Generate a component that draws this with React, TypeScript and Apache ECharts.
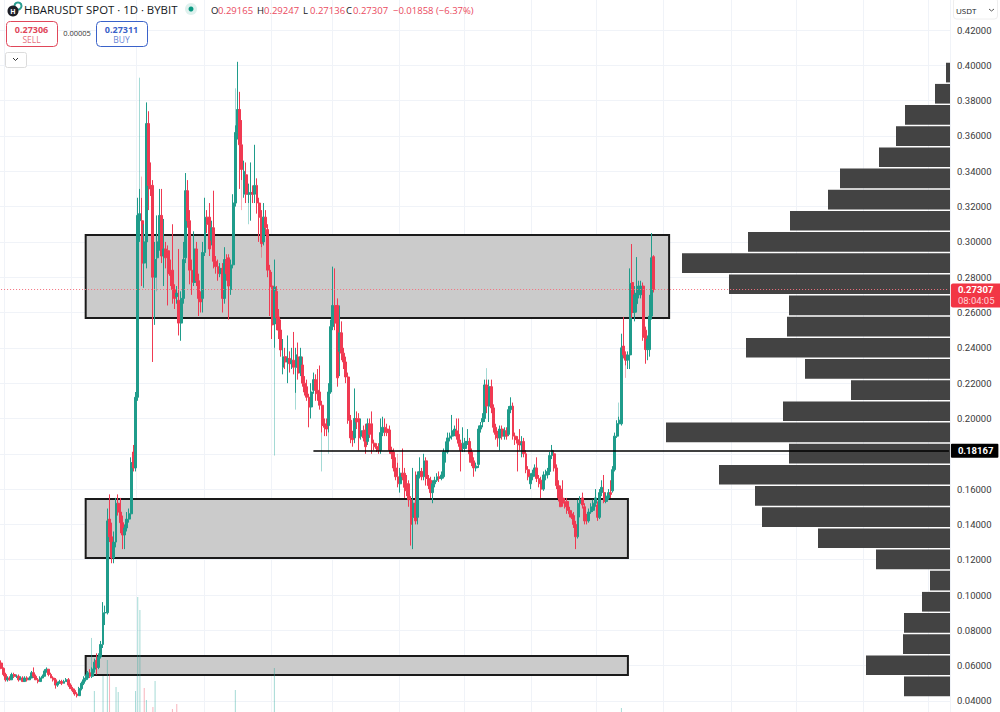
import React, { useEffect, useRef } from "react";
import * as echarts from "echarts";

const FONT = "'Open Sans', 'Noto Sans', sans-serif";
const AXIS_FONT = "Roboto, 'Open Sans', sans-serif";
const UP = "#1f9c8b";
const DOWN = "#f03a52";
const PALE_UP = "rgba(38,166,154,0.42)";
const PALE_DOWN = "rgba(240,58,82,0.38)";

const SLOT_COUNT = 438;
const categories = Array.from({ length: SLOT_COUNT }, (_, i) =>
  new Date(Date.UTC(2024, 8, 30 + i)).toISOString().slice(0, 10)
);
const monthGridSlots = [2, 33, 63, 94, 125, 153, 184, 214, 245, 275, 306, 337, 367, 398, 428];

const priceTicks = { min: 0.02, max: 0.44, step: 0.02 };
const coveredTickLabel = "0.18000";

// [open, close, low, high]
const candles: number[][] = [
  [.0615,.0585,.058,.063],[.0585,.055,.054,.059],[.055,.052,.051,.056],[.052,.053,.051,.054],[.053,.052,.0515,.054],
  [.052,.055,.052,.056],[.055,.054,.053,.056],[.054,.054,.053,.055],[.054,.052,.051,.055],[.052,.053,.052,.054],
  [.053,.051,.051,.054],[.051,.053,.051,.054],[.053,.052,.051,.054],[.052,.053,.052,.054],[.053,.056,.053,.057],
  [.056,.054,.053,.059],[.054,.052,.052,.055],[.052,.051,.05,.053],[.051,.053,.051,.054],[.053,.054,.053,.055],
  [.054,.057,.054,.058],[.057,.058,.056,.059],[.058,.055,.054,.058],[.055,.053,.053,.056],[.053,.052,.051,.054],
  [.052,.049,.047,.053],[.049,.05,.048,.051],[.05,.051,.05,.052],[.051,.05,.049,.052],[.05,.051,.05,.052],
  [.051,.052,.051,.053],[.052,.049,.048,.053],[.049,.047,.047,.05],[.047,.046,.045,.048],[.046,.044,.043,.047],
  [.044,.043,.042,.045],[.043,.047,.043,.048],[.047,.05,.046,.051],[.05,.052,.049,.054],[.052,.053,.051,.055],
  [.053,.056,.052,.057],[.056,.054,.053,.058],[.054,.058,.053,.059],[.058,.062,.056,.064],[.063,.059,.055,.067],
  [.059,.065,.058,.067],[.065,.072,.064,.074],[.072,.09,.07,.096],[.09,.09,.083,.094],[.09,.142,.089,.149],
  [.143,.133,.13,.157],[.133,.121,.118,.141],[.121,.13,.118,.136],[.13,.152,.127,.155],[.152,.147,.145,.157],
  [.147,.141,.135,.155],[.141,.134,.126,.145],[.134,.138,.126,.14],[.138,.143,.136,.147],[.143,.146,.141,.149],
  [.146,.175,.145,.178],[.181,.172,.17,.185],[.172,.212,.17,.215],[.212,.315,.21,.325],[.312,.316,.3,.33],
  [.312,.288,.275,.325],[.288,.3,.274,.31],[.3,.367,.285,.379],[.367,.332,.318,.374],[.332,.33,.326,.345],
  [.332,.28,.232,.335],[.28,.29,.253,.3],[.291,.3,.285,.315],[.3,.315,.295,.33],[.315,.292,.288,.33],
  [.292,.296,.275,.313],[.296,.291,.285,.3],[.295,.282,.264,.298],[.283,.281,.275,.29],[.284,.273,.265,.31],
  [.273,.268,.262,.276],[.269,.271,.265,.275],[.267,.254,.247,.296],[.254,.268,.244,.272],[.268,.29,.265,.3],
  [.291,.329,.288,.339],[.329,.312,.308,.335],[.312,.284,.276,.318],[.284,.277,.27,.29],[.277,.296,.275,.306],
  [.296,.278,.275,.3],[.278,.268,.258,.282],[.268,.266,.26,.272],[.268,.294,.26,.3],[.294,.314,.292,.325],
  [.314,.31,.305,.318],[.314,.296,.292,.322],[.301,.308,.298,.312],[.308,.289,.285,.329],[.289,.286,.282,.292],
  [.286,.282,.278,.29],[.282,.285,.28,.288],[.285,.268,.26,.288],[.268,.29,.265,.297],[.29,.282,.278,.293],
  [.291,.275,.256,.293],[.273,.287,.27,.29],[.287,.322,.285,.327],[.322,.362,.32,.366],[.362,.375,.358,.402],
  [.375,.355,.33,.385],[.355,.341,.335,.369],[.327,.34,.325,.346],[.338,.327,.322,.345],[.327,.327,.322,.333],
  [.327,.328,.312,.345],[.328,.327,.322,.332],[.327,.332,.322,.355],[.332,.322,.316,.336],[.322,.314,.3,.325],
  [.314,.299,.297,.318],[.3,.314,.298,.322],[.314,.308,.304,.318],[.307,.284,.28,.31],[.284,.2745,.258,.287],
  [.275,.253,.245,.283],[.2535,.2745,.24,.29],[.272,.257,.25,.275],[.2575,.25,.245,.262],[.2501,.2388,.235,.256],
  [.229,.235,.225,.245],[.235,.232,.228,.24],[.232,.234,.22,.247],[.234,.231,.226,.238],[.231,.233,.228,.24],
  [.233,.229,.225,.249],[.229,.236,.2145,.24],[.2348,.2257,.222,.243],[.226,.235,.224,.24],[.2303,.22,.218,.235],
  [.22,.215,.213,.224],[.218,.212,.21,.222],[.212,.2065,.195,.214],[.2065,.215,.2,.22],[.216,.222,.214,.226],
  [.222,.216,.21,.225],[.216,.214,.21,.228],[.215,.2075,.205,.23],[.2075,.196,.192,.21],[.196,.195,.19,.2],
  [.197,.194,.19,.2],[.196,.215,.192,.22],[.215,.252,.214,.256],[.252,.264,.25,.286],[.264,.254,.25,.285],
  [.264,.223,.218,.268],[.238,.2485,.224,.264],[.2485,.237,.233,.255],[.237,.232,.228,.24],[.232,.2235,.22,.235],
  [.2235,.199,.197,.226],[.199,.189,.186,.202],[.189,.188,.184,.193],[.189,.2,.186,.217],[.2,.198,.194,.204],
  [.2,.189,.182,.203],[.19,.193,.188,.2],[.193,.189,.187,.196],[.1935,.184,.18,.197],[.187,.197,.185,.2],
  [.197,.191,.189,.2],[.197,.186,.18,.204],[.186,.184,.182,.188],[.184,.183,.181,.186],[.184,.182,.18,.186],
  [.182,.192,.18,.2],[.192,.195,.19,.201],[.195,.192,.19,.2],[.194,.192,.19,.197],[.1935,.182,.18,.196],
  [.182,.18,.177,.184],[.181,.172,.17,.183],[.172,.167,.165,.178],[.167,.163,.161,.175],[.163,.169,.158,.172],
  [.169,.167,.165,.183],[.169,.161,.155,.172],[.163,.159,.156,.168],[.163,.154,.15,.165],[.154,.14,.128,.156],
  [.144,.152,.126,.172],[.152,.142,.14,.17],[.144,.168,.14,.17],[.168,.17,.166,.178],[.17,.167,.165,.172],
  [.167,.176,.165,.18],[.176,.166,.162,.178],[.166,.162,.16,.168],[.165,.158,.155,.167],[.158,.163,.152,.165],
  [.163,.165,.161,.167],[.165,.167,.164,.169],[.167,.166,.164,.17],[.166,.168,.165,.17],[.167,.181,.166,.183],
  [.181,.181,.175,.187],[.181,.189,.18,.192],[.189,.19,.187,.192],[.19,.193,.188,.202],[.192,.194,.19,.196],
  [.193,.19,.188,.2],[.191,.186,.184,.2],[.186,.182,.17,.188],[.183,.186,.181,.195],[.183,.187,.181,.189],
  [.187,.187,.185,.194],[.187,.18,.175,.189],[.181,.175,.173,.183],[.176,.172,.167,.178],[.172,.173,.17,.175],
  [.174,.194,.172,.196],[.194,.196,.192,.198],[.198,.2,.195,.203],[.2,.219,.198,.222],[.219,.207,.203,.222],
  [.207,.218,.198,.222],[.218,.206,.203,.222],[.206,.195,.192,.208],[.195,.191,.188,.197],[.191,.189,.184,.193],
  [.189,.194,.182,.196],[.194,.19,.188,.196],[.19,.193,.188,.195],[.193,.19,.188,.195],[.191,.205,.19,.207],
  [.205,.207,.203,.212],[.207,.19,.188,.209],[.19,.188,.185,.192],[.188,.186,.17,.19],[.187,.185,.182,.194],
  [.185,.186,.178,.19],[.187,.18,.178,.189],[.18,.171,.169,.182],[.171,.167,.165,.173],[.163,.167,.16,.169],
  [.167,.169,.165,.171],[.169,.172,.167,.174],[.172,.166,.164,.178],[.166,.163,.161,.168],[.165,.16,.155,.167],
  [.16,.168,.159,.17],[.168,.168,.165,.171],[.168,.17,.166,.172],[.17,.179,.168,.181],[.179,.182,.177,.185],
  [.18,.172,.17,.182],[.172,.162,.16,.174],[.162,.155,.153,.165],[.16,.15,.15,.162],[.155,.152,.15,.165],
  [.153,.15,.149,.155],[.153,.148,.146,.155],[.148,.146,.144,.15],[.146,.144,.143,.148],[.145,.14,.138,.147],
  [.14,.133,.126,.142],[.133,.152,.132,.154],[.152,.154,.144,.156],[.155,.151,.149,.158],[.15,.142,.14,.152],
  [.144,.142,.14,.146],[.142,.147,.141,.149],[.147,.15,.146,.152],[.148,.152,.147,.154],[.152,.155,.15,.16],
  [.151,.144,.142,.153],[.144,.158,.143,.16],[.158,.161,.156,.165],[.158,.153,.152,.168],[.153,.156,.152,.158],
  [.155,.158,.154,.16],[.158,.157,.155,.165],[.159,.171,.158,.173],[.171,.19,.17,.192],[.19,.197,.189,.199],
  [.197,.199,.195,.201],[.197,.24,.196,.248],[.241,.236,.234,.2575],[.236,.233,.23,.238],[.233,.236,.228,.238],
  [.236,.2765,.228,.285],[.277,.26,.257,.2988],[.26,.27,.255,.275],[.265,.271,.26,.2914],[.271,.275,.268,.278],
  [.27,.275,.268,.278],[.275,.246,.244,.277],[.25,.239,.231,.252],[.239,.245,.233,.247],[.239,.258,.235,.27],
  [.258,.291,.256,.305],[.29165,.27307,.27136,.29247],
];

// [slot, low, high, isUp] — wicks drawn in the chart's paler tone
const paleWicks: [number, number, number, boolean][] = [
  [42, .058, .0757, true], [64, .316, .393, true], [65, .325, .337, false], [72, .272, .285, true],
  [108, .362, .387, true], [111, .318, .335, false], [114, .31, .322, true], [120, .291, .297, false],
  [126, .179, .24, true], [148, .17, .192, true], [151, .18, .192, true], [224, .219, .2285, true],
  [285, .199, .209, true], [288, .223, .23, false], [183, .175, .18, false], [136, .205, .2145, true],
];

// [slot, volume (hundred millions), isUp]
const volumes: [number, number, boolean][] = [
  [43, 2.1, true], [47, 3.6, true], [49, 5.2, true], [50, 3.8, false], [53, 2.5, true], [54, 2.0, true],
  [62, 2.1, true], [63, 11.5, true], [64, 10.2, true], [66, 2.4, false], [67, 1.2, true], [70, 0.5, false],
  [71, 3.1, true], [79, 0.3, false], [81, 0.8, false], [108, 2.2, true], [126, 4.4, true], [286, 0.4, true],
];

// width of each volume-profile row, top row first (highest price first)
const profileRows = ["0.4000", "0.3880", "0.3760", "0.3640", "0.3520", "0.3400", "0.3280", "0.3160", "0.3040", "0.2920",
  "0.2800", "0.2680", "0.2560", "0.2440", "0.2320", "0.2200", "0.2080", "0.1960", "0.1840", "0.1720",
  "0.1600", "0.1480", "0.1360", "0.1240", "0.1120", "0.1000", "0.0880", "0.0760", "0.0640", "0.0520"];
const profileVolumes = [4, 15, 45, 54, 71, 110, 122, 160, 202, 268, 221, 161, 163, 204, 145, 99, 167, 284, 161, 231,
  195, 188, 132, 74, 20, 28, 46, 47, 84, 46];

// [first slot, last slot, upper price, lower price]
const zones: [number, number, number, number][] = [
  [39, 308, 0.3039, 0.2569],
  [39, 289, 0.1544, 0.121],
  [39, 289, 0.0655, 0.0547],
];

const lastPrice = 0.27307;
const lastPriceLabel = "0.27307";
const countdown = "08:04:05";
const levelPrice = 0.18167;
const levelLabel = "0.18167";
const levelStartSlot = 144;

const title = "HBARUSDT SPOT · 1D · BYBIT";
const ohlcTexts: [string, string][] = [
  ["O", "0.29165"], ["H", "0.29247"], ["L", "0.27136"], ["C", "0.27307"],
];
const changeText = "−0.01858 (−6.37%)";

function headerGraphics() {
  const els: any[] = [];
  const txt = (x: number, y: number, text: string, size: number, fill: string, extra: any = {}) => ({
    type: "text", x, y, z: 100,
    style: { text, fontSize: size, fill, fontFamily: FONT, textVerticalAlign: "middle", verticalAlign: "middle", ...extra },
  });
  els.push({ type: "circle", z: 100, shape: { cx: 18, cy: 6, r: 3.5 }, style: { fill: "none", stroke: "#2a9d90", lineWidth: 2 } });
  els.push({ type: "circle", z: 100, shape: { cx: 13, cy: 11, r: 5.5 }, style: { fill: "#1d1f27" } });
  els.push(txt(13, 11, "H", 7, "#fff", { align: "center", fontWeight: "bold" }));
  els.push(txt(24, 9, title, 11.4, "#131722"));
  els.push({ type: "circle", z: 100, shape: { cx: 191, cy: 9, r: 6 }, style: { fill: "#dff1ee" } });
  els.push({ type: "circle", z: 100, shape: { cx: 191, cy: 9, r: 2.5 }, style: { fill: "#089981" } });
  const xs = [211, 257, 303, 346];
  ohlcTexts.forEach(([k, v], i) => {
    els.push(txt(xs[i], 10, k, 9.5, "#131722"));
    els.push(txt(xs[i] + 7, 10, v, 9.5, "#ea4a5e"));
  });
  els.push(txt(393, 10, changeText, 9.5, "#ea4a5e"));
  const box = (x: number, w: number, color: string, price: string, side: string) => {
    els.push({ type: "rect", z: 100, shape: { x: x + 0.5, y: 21.5, width: w, height: 25, r: 4 }, style: { fill: "#fff", stroke: color, lineWidth: 1 } });
    els.push(txt(x + w / 2, 29, price, 9, color, { align: "center", fontWeight: "bold" }));
    els.push(txt(x + w / 2, 39, side, 8.5, color, { align: "center", opacity: 0.8 }));
  };
  box(6, 51, "#e0475a", "0.27306", "SELL");
  box(96, 51, "#3a62c9", "0.27311", "BUY");
  els.push(txt(77, 33, "0.00005", 7.5, "#333", { align: "center" }));
  els.push({ type: "rect", z: 100, shape: { x: 5.5, y: 52.5, width: 21, height: 15, r: 2 }, style: { fill: "#fff", stroke: "#dcdcdc", lineWidth: 1 } });
  els.push({ type: "polyline", z: 100, shape: { points: [[13, 58], [15.5, 60.5], [18, 58]] }, style: { fill: "none", stroke: "#333", lineWidth: 1 } });
  els.push({ type: "rect", z: 100, shape: { x: 953.5, y: -2, width: 44, height: 21, r: 3 }, style: { fill: "#fff", stroke: "#eeeeee", lineWidth: 1 } });
  els.push(txt(956, 10, "USDT", 8, "#131722"));
  els.push({ type: "polyline", z: 100, shape: { points: [[989, 9], [991.5, 11], [994, 9]] }, style: { fill: "none", stroke: "#555", lineWidth: 1 } });
  return els;
}

export default function App() {
  const ref = useRef<HTMLDivElement>(null);
  useEffect(() => {
    const chart = echarts.init(ref.current!, undefined, { renderer: "svg" });
    const gridSet = new Set(monthGridSlots);
    const paleData = candles.map(() => ["-", "-", "-", "-"] as any);
    const paleItems: any[] = paleData.map((v: any) => ({ value: v }));
    paleWicks.forEach(([slot, lo, hi, up]) => {
      const c = up ? PALE_UP : PALE_DOWN;
      paleItems[slot] = { value: [lo, lo, lo, hi], itemStyle: { color: c, color0: c, borderColor: c, borderColor0: c } };
    });
    const volumeData: any[] = candles.map(() => 0);
    volumes.forEach(([slot, v, up]) => {
      volumeData[slot] = { value: v, itemStyle: { color: up ? PALE_UP : PALE_DOWN } };
    });

    chart.setOption({
      animation: false,
      backgroundColor: "#ffffff",
      textStyle: { fontFamily: FONT },
      graphic: headerGraphics(),
      grid: [
        { left: 0, width: 950, top: -5.3, height: 741.6, outerBoundsMode: "none", containLabel: false },
        { left: 0, width: 950, top: 500, height: 212, outerBoundsMode: "none", containLabel: false },
        { left: 650, width: 300, top: 62, height: 635, outerBoundsMode: "none", containLabel: false },
      ],
      xAxis: [
        {
          type: "category", gridIndex: 0, data: categories, boundaryGap: true,
          axisLine: { show: false }, axisTick: { show: false }, axisLabel: { show: false },
          splitLine: { show: true, interval: (i: number) => gridSet.has(i), lineStyle: { color: "#f0f3f8", width: 1 } },
        },
        {
          type: "category", gridIndex: 1, data: categories,
          axisLine: { show: false }, axisTick: { show: false }, axisLabel: { show: false }, splitLine: { show: false },
        },
        { type: "value", gridIndex: 2, min: 0, max: 300, inverse: true, show: false },
      ],
      yAxis: [
        {
          type: "value", gridIndex: 0, position: "right",
          min: priceTicks.min, max: priceTicks.max, interval: priceTicks.step,
          axisLine: { show: false }, axisTick: { show: false },
          axisLabel: {
            show: true, inside: false, margin: 7, fontSize: 9.5, color: "#3a3a3a", fontFamily: AXIS_FONT,
            showMinLabel: false, showMaxLabel: false,
            formatter: (v: number) => (v.toFixed(5) === coveredTickLabel ? "" : v.toFixed(5)),
          },
          splitLine: { show: true, lineStyle: { color: "#f0f3f8", width: 1 } },
        },
        { type: "value", gridIndex: 1, min: 0, max: 21.2, show: false },
        { type: "category", gridIndex: 2, data: profileRows, inverse: true, show: false },
      ],
      series: [
        {
          name: "Zones", type: "line", xAxisIndex: 0, yAxisIndex: 0, data: [], z: 1, silent: true,
          markArea: {
            silent: true, z: 1,
            itemStyle: { color: "#cbcbcb", borderColor: "#1a1a1a", borderWidth: 2 },
            data: zones.map(([a, b, hi, lo]) => [{ coord: [a, hi] }, { coord: [b, lo] }]),
          },
        },
        {
          name: "Volume profile", type: "bar", xAxisIndex: 2, yAxisIndex: 2, data: profileVolumes,
          barCategoryGap: "7%", z: 1, silent: true, itemStyle: { color: "#434343" },
        },
        {
          name: "Volume", type: "bar", xAxisIndex: 1, yAxisIndex: 1, data: volumeData,
          barWidth: 1, z: 2, silent: true,
        },
        {
          name: "Pale wicks", type: "candlestick", xAxisIndex: 0, yAxisIndex: 0, data: paleItems,
          barWidth: 1, z: 2, silent: true,
        },
        {
          name: "HBARUSDT", type: "candlestick", xAxisIndex: 0, yAxisIndex: 0, data: candles,
          barWidth: 2.4, z: 3, silent: true,
          itemStyle: { color: UP, color0: DOWN, borderColor: UP, borderColor0: DOWN, borderWidth: 1 },
          markLine: {
            silent: true, symbol: "none", animation: false, z: 6, precision: 5,
            data: [
              [
                {
                  coord: [0, lastPrice],
                  lineStyle: { color: "#f4717e", type: [1, 2], width: 1 },
                  label: {
                    show: true, position: "end", distance: 2, offset: [0, 6],
                    formatter: `{p|${lastPriceLabel}}\n{t|${countdown}}`,
                    backgroundColor: "#f23645", padding: [1, 8, 1, 7], borderRadius: 2,
                    rich: {
                      p: { color: "#fff", fontSize: 9.5, fontWeight: "bold", fontFamily: AXIS_FONT, lineHeight: 11 },
                      t: { color: "#ffd3d8", fontSize: 9.5, fontFamily: AXIS_FONT, lineHeight: 11 },
                    },
                  },
                },
                { coord: [SLOT_COUNT - 1, lastPrice] },
              ],
              [
                {
                  coord: [levelStartSlot, levelPrice],
                  lineStyle: { color: "#000", type: "solid", width: 1.5 },
                  label: {
                    show: true, position: "end", distance: 2,
                    formatter: levelLabel, color: "#fff", backgroundColor: "#000",
                    fontSize: 9.5, fontWeight: "bold", fontFamily: AXIS_FONT, padding: [2, 5, 2, 7], borderRadius: 1,
                  },
                },
                { coord: [SLOT_COUNT - 1, levelPrice] },
              ],
            ],
          },
        },
      ],
    });
    return () => chart.dispose();
  }, []);
  return <div ref={ref} style={{ position: "absolute", left: 0, top: 0, width: 1000, height: 712 }} />;
}
